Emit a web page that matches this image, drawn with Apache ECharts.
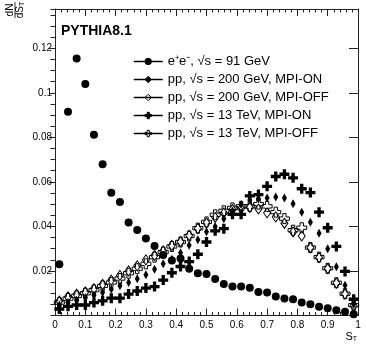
<!DOCTYPE html>
<html>
<head>
<meta charset="utf-8">
<script src="https://cdn.jsdelivr.net/npm/echarts@6/dist/echarts.min.js"></script>
<style>
  html, body { margin: 0; padding: 0; background: #fff; }
  #chart { width: 366px; height: 355px; }
</style>
</head>
<body>
<div id="chart"></div>
<script>
// 35 bins in S_T between 0 and 1, points at the bin centres
var nBins = 35;
var sT = [];
for (var i = 0; i < nBins; i++) sT.push((i + 0.5) / nBins);

var yTicks = [0.02, 0.04, 0.06, 0.08, 0.1, 0.12];

var ee = [0.0230, 0.0915, 0.1154, 0.1039, 0.0812, 0.0679, 0.0551, 0.0509, 0.0417, 0.0384,
  0.0346, 0.0312, 0.0272, 0.0247, 0.0256, 0.0210, 0.0190, 0.0186, 0.0164, 0.0141,
  0.0130, 0.0130, 0.0125, 0.0106, 0.0103, 0.0085, 0.0076, 0.0073, 0.0058, 0.0050,
  0.0039, 0.0033, 0.0024, 0.0017, 0.0006];
var pp200on = [0.0047, 0.0058, 0.0069, 0.0080, 0.0091, 0.0103, 0.0118, 0.0133, 0.0148, 0.0165,
  0.0183, 0.0208, 0.0232, 0.0252, 0.0282, 0.0315, 0.0340, 0.0376, 0.0400, 0.0434,
  0.0469, 0.0498, 0.0519, 0.0524, 0.0528, 0.0532, 0.0528, 0.0502, 0.0464, 0.0419,
  0.0369, 0.0300, 0.0219, 0.0136, 0.0050];
var pp200off = [0.0065, 0.0084, 0.0096, 0.0106, 0.0121, 0.0140, 0.0159, 0.0180, 0.0200, 0.0223,
  0.0250, 0.0270, 0.0290, 0.0315, 0.0332, 0.0360, 0.0390, 0.0415, 0.0440, 0.0460,
  0.0475, 0.0480, 0.0485, 0.0478, 0.0461, 0.0443, 0.0414, 0.0375, 0.0357, 0.0305,
  0.0260, 0.0210, 0.0145, 0.0096, 0.0044];
var pp13on = [0.0029, 0.0041, 0.0047, 0.0047, 0.0058, 0.0066, 0.0078, 0.0078, 0.0096, 0.0110,
  0.0123, 0.0130, 0.0159, 0.0192, 0.0220, 0.0242, 0.0275, 0.0330, 0.0380, 0.0390,
  0.0454, 0.0454, 0.0537, 0.0543, 0.0580, 0.0624, 0.0634, 0.0618, 0.0569, 0.0552,
  0.0464, 0.0394, 0.0310, 0.0198, 0.0073];
var pp13off = [0.0058, 0.0076, 0.0088, 0.0100, 0.0114, 0.0133, 0.0148, 0.0166, 0.0190, 0.0210,
  0.0232, 0.0262, 0.0285, 0.0310, 0.0330, 0.0357, 0.0392, 0.0420, 0.0452, 0.0470,
  0.0483, 0.0490, 0.0490, 0.0500, 0.0490, 0.0464, 0.0435, 0.0383, 0.0394, 0.0305,
  0.0262, 0.0212, 0.0147, 0.0098, 0.0046];

var names = ['e⁺e⁻, √s = 91 GeV', 'pp, √s = 200 GeV, MPI-ON', 'pp, √s = 200 GeV, MPI-OFF',
  'pp, √s = 13 TeV, MPI-ON', 'pp, √s = 13 TeV, MPI-OFF'];

var font = 'Liberation Sans, Arial, Helvetica, sans-serif';
var diamond = 'path://M3,0 L6,5 L3,10 L0,5 Z';
var plus = 'path://M3,0 L6,0 L6,3 L9,3 L9,6 L6,6 L6,9 L3,9 L3,6 L0,6 L0,3 L3,3 Z';

function pairs(vals) {
  return vals.map(function (v, i) { return [sT[i], v]; });
}

function mkSeries(name, vals, symbol, size, filled) {
  return {
    name: name,
    type: 'line',
    data: pairs(vals),
    symbol: symbol,
    symbolSize: size,
    showSymbol: true,
    showAllSymbol: true,
    lineStyle: { width: 0, opacity: 0 },
    itemStyle: filled
      ? { color: '#000', borderColor: '#000', borderWidth: 0 }
      : { color: 'rgba(255,255,255,0)', borderColor: '#000', borderWidth: 1 },
    emphasis: { disabled: true }
  };
}

var myChart = echarts.init(document.getElementById('chart'), null, { renderer: 'canvas' });

var yMax = 0.1376;
var axisCol = '#222';

option = {
  animation: false,
  backgroundColor: '#fff',
  grid: { left: 55, right: 8, top: 9, bottom: 39.5, containLabel: false },
  legend: {
    orient: 'vertical',
    left: 133,
    top: 55,
    padding: 0,
    itemWidth: 29,
    itemHeight: 8,
    itemGap: 5,
    selectedMode: false,
    data: names,
    lineStyle: { color: '#000', width: 1.5, opacity: 1, type: 'solid' },
    itemStyle: { borderWidth: 1 },
    textStyle: { fontFamily: font, fontSize: 13, color: '#000' }
  },
  xAxis: [
    {
      type: 'value', min: 0, max: 1, interval: 0.1, position: 'bottom',
      axisLine: { show: true, onZero: false, lineStyle: { color: axisCol, width: 1 } },
      axisTick: { show: true, inside: true, length: 7, lineStyle: { color: axisCol } },
      minorTick: { show: true, splitNumber: 5, length: 3.5, lineStyle: { color: axisCol } },
      splitLine: { show: false },
      axisLabel: {
        fontFamily: font, fontSize: 10, color: '#000', margin: 5,
        formatter: function (v) { return String(+v.toFixed(1)); }
      }
    },
    {
      type: 'value', min: 0, max: 1, interval: 0.1, position: 'top',
      axisLine: { show: true, onZero: false, lineStyle: { color: axisCol, width: 1 } },
      axisTick: { show: true, inside: true, length: 7, lineStyle: { color: axisCol } },
      minorTick: { show: true, splitNumber: 5, length: 3.5, lineStyle: { color: axisCol } },
      splitLine: { show: false },
      axisLabel: { show: false }
    }
  ],
  yAxis: [
    {
      type: 'value', min: 0, max: yMax, interval: 0.02, position: 'left',
      axisLine: { show: true, onZero: false, lineStyle: { color: axisCol, width: 1 } },
      axisTick: { show: true, inside: false, length: 6, lineStyle: { color: axisCol } },
      splitLine: { show: false },
      axisLabel: {
        fontFamily: font, fontSize: 10, color: '#000', margin: 3,
        showMinLabel: false, showMaxLabel: false,
        formatter: function (v) {
          for (var k = 0; k < yTicks.length; k++) {
            if (Math.abs(v - yTicks[k]) < 1e-6) return String(yTicks[k]);
          }
          return '';
        }
      }
    },
    {
      type: 'value', min: 0, max: yMax, interval: 0.005, position: 'left',
      axisLine: { show: false },
      axisTick: { show: true, inside: false, length: 3, lineStyle: { color: axisCol } },
      splitLine: { show: false },
      axisLabel: { show: false }
    },
    {
      type: 'value', min: 0, max: yMax, interval: 0.02, position: 'right',
      axisLine: { show: true, onZero: false, lineStyle: { color: axisCol, width: 1 } },
      axisTick: { show: true, inside: true, length: 9, lineStyle: { color: axisCol } },
      splitLine: { show: false },
      axisLabel: { show: false }
    },
    {
      type: 'value', min: 0, max: yMax, interval: 0.005, position: 'right',
      axisLine: { show: false },
      axisTick: { show: true, inside: true, length: 4.5, lineStyle: { color: axisCol } },
      splitLine: { show: false },
      axisLabel: { show: false }
    }
  ],
  graphic: [
    {
      type: 'text', left: 61, top: 24,
      style: { text: 'PYTHIA8.1', fontFamily: font, fontSize: 14, fontWeight: 'bold', fill: '#000' }
    },
    {
      type: 'group', x: 15, y: 10, rotation: Math.PI / 2,
      children: [
        { type: 'text', style: { x: 0, y: -5, text: 'dN', align: 'center', verticalAlign: 'middle',
          fontFamily: font, fontSize: 10, fill: '#000' } },
        { type: 'line', shape: { x1: -8, y1: 0, x2: 8, y2: 0 }, style: { stroke: '#000', lineWidth: 0.8 } },
        { type: 'text', style: { x: 0, y: 5, text: '{a|dS}{b|T}', align: 'center', verticalAlign: 'middle',
          fontFamily: font, fontSize: 10, fill: '#000',
          rich: { a: { fontFamily: font, fontSize: 10, fill: '#000' },
                  b: { fontFamily: font, fontSize: 7, fill: '#000', padding: [5, 0, 0, 0] } } } }
      ]
    },
    {
      type: 'text', right: 9, top: 331,
      style: { text: '{a|S}{b|T}', fontFamily: font, fill: '#000',
        rich: { a: { fontFamily: font, fontSize: 11, fill: '#000' },
                b: { fontFamily: font, fontSize: 7, fill: '#000', padding: [6, 0, 0, 0] } } }
    }
  ],
  series: [
    mkSeries(names[0], ee, 'circle', 8, true),
    mkSeries(names[1], pp200on, diamond, [5, 9], true),
    mkSeries(names[2], pp200off, diamond, [7, 10], false),
    mkSeries(names[3], pp13on, plus, 10, true),
    mkSeries(names[4], pp13off, plus, 10, false)
  ]
};
myChart.setOption(option);
</script>
</body>
</html>
